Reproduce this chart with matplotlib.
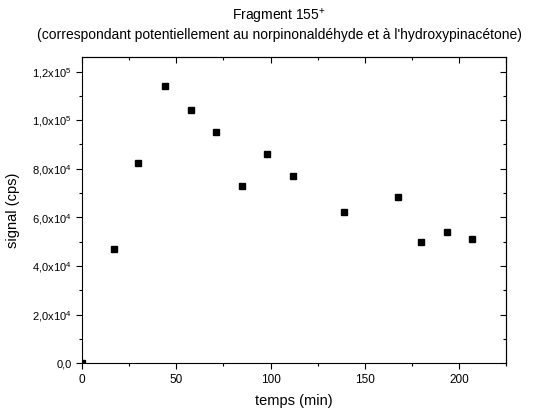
import numpy as np
import matplotlib.pyplot as plt
from matplotlib.ticker import MultipleLocator, FuncFormatter

plt.rcParams['font.family'] = ['Liberation Sans', 'DejaVu Sans']
plt.rcParams['mathtext.fontset'] = 'custom'
plt.rcParams['mathtext.rm'] = 'Liberation Sans'
plt.rcParams['mathtext.it'] = 'Liberation Sans'

temps = [0, 17.0, 29.7, 44.2, 57.8, 71.1, 84.7, 98.1, 111.9, 138.9, 167.9, 179.7, 193.9, 206.8]
signal = [0, 4.69e4, 8.25e4, 11.42e4, 10.4e4, 9.53e4, 7.3e4, 8.6e4, 7.69e4, 6.23e4, 6.84e4, 5.0e4, 5.39e4, 5.13e4]

fig = plt.figure(figsize=(5.58, 4.16), dpi=100)
ax = fig.add_axes([0.147, 0.127, 0.76, 0.736])

ax.plot(temps, signal, 's', color='black', markersize=4.2, linestyle='none')

ax.set_xlim(0, 225)
ax.set_ylim(0, 1.26e5)

ax.xaxis.set_major_locator(MultipleLocator(50))
ax.xaxis.set_minor_locator(MultipleLocator(25))
ax.yaxis.set_major_locator(MultipleLocator(2e4))
ax.yaxis.set_minor_locator(MultipleLocator(1e4))


def fmt(v, pos):
    if v == 0:
        return '0,0'
    e = int(np.floor(np.log10(abs(v))))
    m = v / 10**e
    return r'$%s\mathrm{x}10^{%d}$' % (('%.1f' % m).replace('.', '{,}'), e)


ax.yaxis.set_major_formatter(FuncFormatter(fmt))
ax.tick_params(which='both', direction='out', labelsize=8, width=0.8)
ax.tick_params(which='major', length=4)
ax.tick_params(which='minor', length=2.5)
ax.tick_params(axis='x', labelsize=8.5)

# top and right ticks pointing inward
top = ax.secondary_xaxis('top')
top.xaxis.set_major_locator(MultipleLocator(50))
top.xaxis.set_minor_locator(MultipleLocator(25))
top.tick_params(which='both', direction='in', labeltop=False, width=0.8)
top.tick_params(which='major', length=4)
top.tick_params(which='minor', length=2.5)
right = ax.secondary_yaxis('right')
right.yaxis.set_major_locator(MultipleLocator(2e4))
right.yaxis.set_minor_locator(MultipleLocator(1e4))
right.tick_params(which='both', direction='in', labelright=False, width=0.8)
right.tick_params(which='major', length=4)
right.tick_params(which='minor', length=2.5)

ax.set_xlabel('temps (min)', fontsize=10.5, labelpad=6)
ax.set_ylabel('signal (cps)', fontsize=10.5, labelpad=9)
fig.text(0.5, 1 - 7 / 416,
         'Fragment 155$^{+}$\n(correspondant potentiellement au norpinonaldéhyde et à l\'hydroxypinacétone)',
         fontsize=10, ha='center', va='top', linespacing=1.15, multialignment='center')

fig.savefig('out.png', dpi=100)
